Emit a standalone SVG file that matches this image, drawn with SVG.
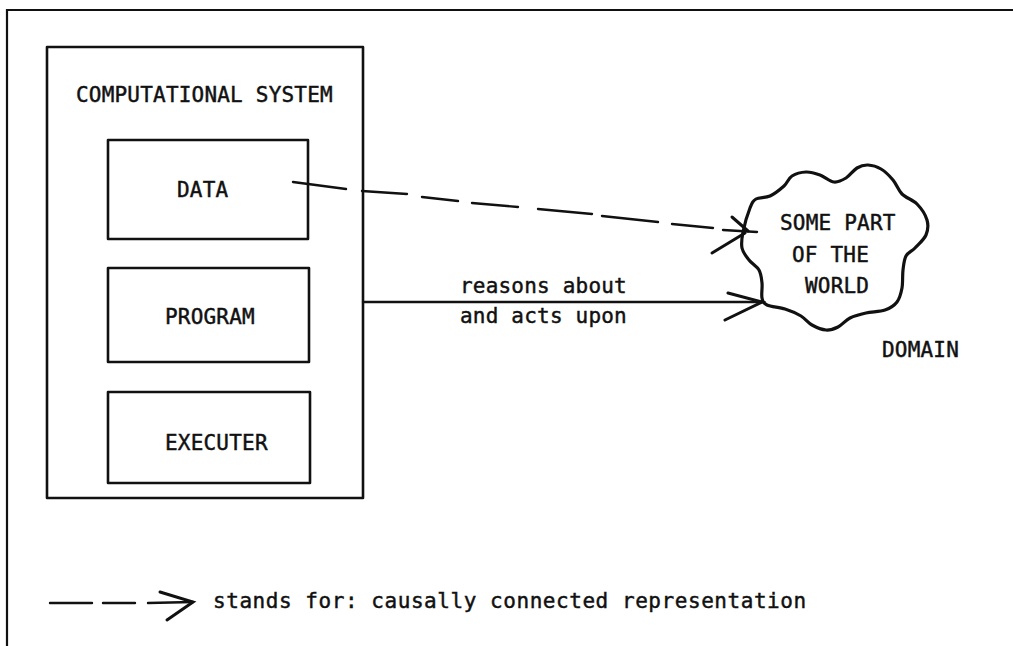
<svg xmlns="http://www.w3.org/2000/svg" width="1013" height="646" viewBox="0 0 1013 646">
  <style>
    .frame { fill: none; stroke: #111; stroke-width: 2.2; }
    .box { fill: none; stroke: #111; stroke-width: 2.6; stroke-linejoin: round; }
    .cloud { fill: none; stroke: #111; stroke-width: 3.2; stroke-linejoin: round; }
    .conn { fill: none; stroke: #111; stroke-width: 2.4; stroke-linecap: round; }
    .head { fill: none; stroke: #111; stroke-width: 3; stroke-linecap: round; }
    .lbl { font-family: "DejaVu Sans Mono", "Liberation Mono", monospace; font-size: 21px; letter-spacing: 0.2px; fill: #111; stroke: #111; stroke-width: 0.45; }
    .wide { letter-spacing: 0.55px; }
  </style>

  <rect width="1013" height="646" fill="#fff"/>

  <!-- page frame: top and left rules -->
  <path class="frame" d="M7,646 L7,10 L1013,10"/>

  <!-- computational system container -->
  <g id="computational-system">
    <rect class="box" x="47" y="47" width="316" height="451"/>
    <text class="lbl" x="76" y="102">COMPUTATIONAL SYSTEM</text>
  </g>

  <g id="data">
    <rect class="box" x="108" y="140" width="200" height="99"/>
    <text class="lbl" x="177" y="197">DATA</text>
  </g>

  <g id="program">
    <rect class="box" x="108" y="268" width="201" height="94"/>
    <text class="lbl" x="165" y="324">PROGRAM</text>
  </g>

  <g id="executer">
    <rect class="box" x="108" y="392" width="202" height="91"/>
    <text class="lbl" x="165" y="450">EXECUTER</text>
  </g>

  <!-- domain cloud -->
  <g id="domain">
    <path class="cloud" d="M743,232 C744.3,225.3 747.8,213.5 750,208 S752.7,201 756,199 S765.3,198.2 770,196 S780.3,189.3 784,186 S788.3,178.3 792,176 S801.3,172.2 806,172 S815.3,173.3 820,175 S829.7,181.5 834,182 S842.2,180.3 846,178 S853.3,170.2 857,168 S864,164.8 868,165 S876.8,166.5 881,169 S889.5,175.8 893,180 S898,190 902,194 S912.8,199.7 917,204 S925.5,214.8 927,220 S928,230.3 926,235 S918.3,244.5 915,248 S908,252.3 906,256 S903.7,264.7 903,270 S903,282.7 902,288 S899.8,298.3 897,302 S890.2,308.2 885,310 S871.8,311.7 866,313 S854.7,315.7 850,318 S842,325 838,327 S830.3,330.3 826,330 S816.2,327.3 812,325 S805.5,318.7 801,316 S790.7,310.8 785,309 S770.8,306.8 767,305 S762.8,301.7 762,298 S762.5,287.7 762,283 S761.2,273.8 759,270 S751.8,263.7 749,260 S743,252.7 742,248 S741.7,238.7 743,232 Z"/>
    <text class="lbl" x="780" y="230">SOME PART</text>
    <text class="lbl" x="792" y="262">OF THE</text>
    <text class="lbl" x="805" y="293">WORLD</text>
    <text class="lbl" x="882" y="357">DOMAIN</text>
  </g>

  <!-- connectors -->
  <g id="connectors">
    <!-- data stands for the domain (dashed) -->
    <path class="conn" d="M293,182 L346,189 M362,191 L407,194 M422,197 L458,201 M472,203 L518,207 M538,209 L592,214 M602,216 L658,222 M672,224 L713,228 M723,230 L757,232"/>
    <path class="head" d="M732,217 L748,231 M712,253 L745,233"/>

    <!-- program reasons about and acts upon the domain -->
    <path class="conn" d="M363,302 L762,302"/>
    <path class="head" d="M728,293 L762,302 L725,320"/>
    <text class="lbl" x="460" y="293">reasons about</text>
    <text class="lbl" x="460" y="323">and acts upon</text>
  </g>

  <!-- legend -->
  <g id="legend">
    <path class="conn" d="M50,603 L92,603 M103,603 L135,603 M148,603 L193,602"/>
    <path class="head" d="M160,592 L193,602 L167,620"/>
    <text class="lbl wide" x="213" y="608">stands for: causally connected representation</text>
  </g>
</svg>
